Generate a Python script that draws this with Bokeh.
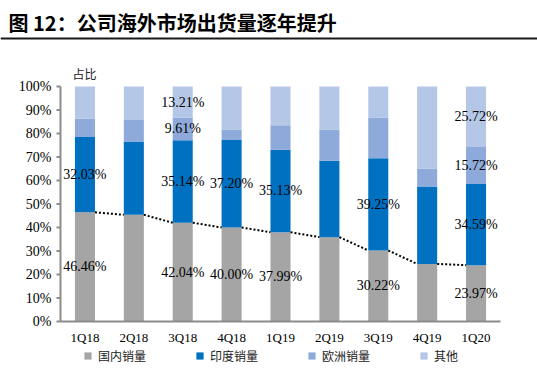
from bokeh.plotting import figure
from bokeh.models import (ColumnDataSource, Legend, LegendItem, Range1d, Label, Span)
from bokeh.core.properties import value
from bokeh.embed import file_html
from bokeh.resources import INLINE

quarters = ["1Q18", "2Q18", "3Q18", "4Q18", "1Q19", "2Q19", "3Q19", "4Q19", "1Q20"]
domestic = [46.46, 45.40, 42.04, 40.00, 37.99, 35.90, 30.22, 24.50, 23.97]
india = [32.03, 31.20, 35.14, 37.20, 35.13, 32.50, 39.25, 32.90, 34.59]
europe = [7.80, 9.10, 9.61, 4.50, 10.40, 13.30, 17.30, 7.70, 15.72]
others = [13.71, 14.30, 13.21, 18.30, 16.48, 18.30, 13.23, 34.90, 25.72]
series_names = ["国内销量", "印度销量", "欧洲销量", "其他"]
show_main = [True, False, True, True, True, False, True, False, True]
show_minor = [False, False, True, False, False, False, False, False, True]
y_ticks = [0, 10, 20, 30, 40, 50, 60, 70, 80, 90, 100]
y_tick_labels = ["0%", "10%", "20%", "30%", "40%", "50%", "60%", "70%", "80%", "90%", "100%"]
title_text = "图 12：公司海外市场出货量逐年提升"
unit_text = "占比"

colors = ["#A5A5A5", "#0070C0", "#8EAADB", "#B4C7E7"]
AXIS_COLOR = "#8C8C8C"
BAR_W = 0.41
SERIF = "Liberation Serif"
CJK = "Noto Sans CJK SC"

# canvas / plot-area geometry in pixels (layout only)
W, H = 537, 380
PX_L, PX_R, PX_T, PX_B = 60, 500, 86, 321
n = len(quarters)
ux = n / (PX_R - PX_L)          # data units per px (x)
uy = 100.0 / (PX_B - PX_T)      # data units per px (y)
x_start = -0.5 - PX_L * ux
x_end = n - 0.5 + (W - PX_R) * ux
y_start = 0 - (H - PX_B) * uy
y_end = 100 + PX_T * uy

p = figure(width=W, height=H, output_backend="svg", toolbar_location=None,
           x_range=Range1d(x_start, x_end), y_range=Range1d(y_start, y_end),
           x_axis_location=None, y_axis_location=None,
           min_border=0, min_border_left=0, min_border_right=0,
           min_border_top=0, min_border_bottom=0)
p.outline_line_color = None
p.grid.visible = False

idx = list(range(n))
src = ColumnDataSource(dict(x=idx, d=domestic, i=india, e=europe, o=others))
rs = p.vbar_stack(["d", "i", "e", "o"], x="x", width=BAR_W, source=src,
                  fill_color=colors, line_color=None)

# series lines connecting tops of domestic segments
x0 = [i + BAR_W / 2 for i in idx[:-1]]
x1 = [i + 1 - BAR_W / 2 for i in idx[:-1]]
p.segment(x0=x0, y0=domestic[:-1], x1=x1, y1=domestic[1:], line_color="black",
          line_width=2, line_dash="2 2")

# data labels
lx, ly, lt = [], [], []
for k in idx:
    base = 0.0
    for s, vals in enumerate([domestic, india, europe, others]):
        v = vals[k]
        show = show_main[k] if s < 2 else show_minor[k]
        if show:
            lx.append(k)
            ly.append(base + v / 2)
            lt.append(f"{v:.2f}%")
        base += v
p.text(x=lx, y=ly, text=lt, text_align="center", text_baseline="middle",
       text_font=value(SERIF), text_font_size="14px", text_color="black")

# axes (drawn through the data scales)
left = -0.5
right = n - 0.5
p.segment(x0=[left], y0=[y_ticks[0]], x1=[left], y1=[y_ticks[-1]],
          line_color=AXIS_COLOR, line_width=2)
p.segment(x0=[left], y0=[0], x1=[right], y1=[0], line_color=AXIS_COLOR, line_width=2)
p.segment(x0=[left - 4 * ux] * len(y_ticks), y0=y_ticks,
          x1=[left] * len(y_ticks), y1=y_ticks, line_color=AXIS_COLOR, line_width=2)
p.text(x=[left - 9 * ux] * len(y_ticks), y=y_ticks, text=y_tick_labels,
       text_align="right", text_baseline="middle", text_font=value(SERIF),
       text_font_size="14px", text_color="black")
p.text(x=idx, y=[0 - 16 * uy] * n, text=quarters, text_align="center",
       text_baseline="middle", text_font=value(SERIF), text_font_size="13px",
       text_color="black")

# title, rule, unit label (screen units from bottom-left of canvas)
p.add_layout(Label(x=8, y=H - 22, x_units="screen", y_units="screen", text=title_text,
                   text_font=CJK, text_font_size="20px", text_font_style="bold",
                   text_color="black", text_baseline="middle", text_align="left"))
p.add_layout(Span(location=y_end - 38 * uy, dimension="width", line_color="#1a1a1a",
                  line_width=2))
p.add_layout(Label(x=72, y=H - 73, x_units="screen", y_units="screen", text=unit_text,
                   text_font=CJK, text_font_size="12px", text_color="#222222",
                   text_baseline="middle", text_align="left"))

legend = Legend(items=[LegendItem(label=nm, renderers=[r]) for nm, r in zip(series_names, rs)],
                orientation="horizontal", location=(83, 16), spacing=49,
                glyph_width=9, glyph_height=9, label_height=12, label_standoff=6,
                padding=0, margin=0, border_line_color=None, background_fill_alpha=0,
                label_text_font=CJK, label_text_font_size="12px", label_text_color="#222222")
p.add_layout(legend, "center")

open("out.html", "w").write(file_html(p, INLINE))
